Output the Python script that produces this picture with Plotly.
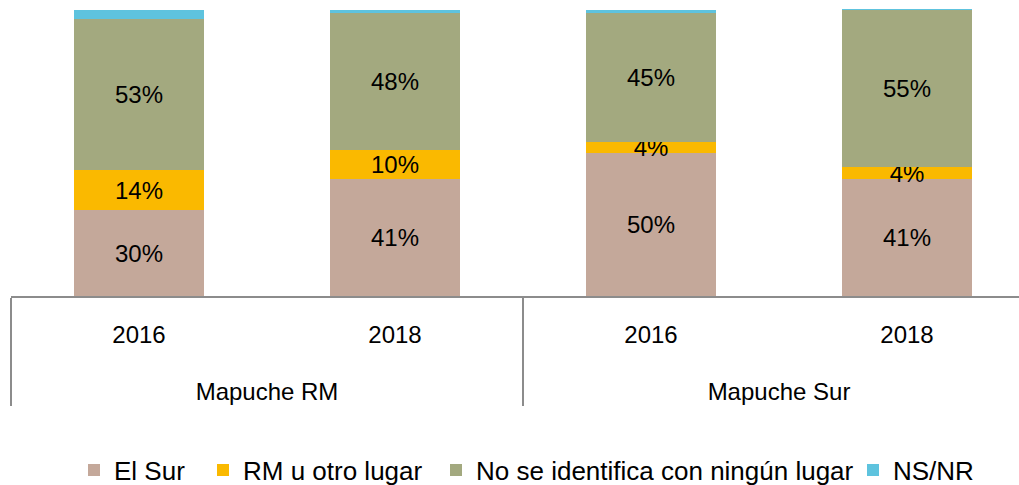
import plotly.graph_objects as go

group_names = ["Mapuche RM", "Mapuche RM", "Mapuche Sur", "Mapuche Sur"]
year_names = ["2016", "2018", "2016", "2018"]

series_names = ["El Sur", "RM u otro lugar", "No se identifica con ningún lugar", "NS/NR"]
el_sur = [30, 41, 50, 41]
rm_otro = [14, 10, 4, 4]
no_se = [53, 48, 45, 55]
ns_nr = [3, 1, 1, 0.5]
colors = ["#C4A89A", "#FAB900", "#A3A97F", "#5EC3DE"]

# label markup: visible text at 24px inside a 29px tick font (controls level spacing)
SPAN = "<span style='font-size:24px'>{}</span>"
groups = ["<br>" + SPAN.format(g) for g in group_names]
years = [SPAN.format(y) for y in year_names]

FONT = "Liberation Sans, Arial, sans-serif"

values = [el_sur, rm_otro, no_se, ns_nr]
show_text = [True, True, True, False]
legend_ids = ["legend", "legend2", "legend3", "legend4"]
legend_sym_center = [96, 225, 458, 875]

fig = go.Figure()
for name, vals, col, st, lg in zip(series_names, values, colors, show_text, legend_ids):
    fig.add_trace(go.Bar(
        x=[groups, years], y=vals, name=name,
        marker=dict(color=col, line=dict(width=0)),
        text=[f"{v:.0f}%" for v in vals] if st else None,
        textposition="inside" if st else "none",
        insidetextanchor="middle",
        textfont=dict(family=FONT, size=24, color="black"),
        legend=lg,
        hoverinfo="skip",
    ))

W, H = 1019, 485
L, PW = 11, 1008
layout_legends = {}
for lg, cx in zip(legend_ids, legend_sym_center):
    layout_legends[lg] = dict(
        x=(cx - 22) / W, xanchor="left", xref="container",
        y=(H - 470) / H, yanchor="middle", yref="container",
        orientation="h", bgcolor="rgba(0,0,0,0)",
        font=dict(family=FONT, size=26, color="black"),
        itemwidth=30, itemclick=False,
    )

fig.update_layout(
    width=W, height=H,
    margin=dict(l=L, r=0, t=8, b=189, autoexpand=False),
    barmode="stack", bargap=0.49,
    plot_bgcolor="white", paper_bgcolor="white",
    showlegend=True,
    uniformtext=dict(minsize=24, mode="show"),
    font=dict(family=FONT, size=24, color="black"),
    **layout_legends,
)
fig.update_xaxes(
    type="multicategory",
    range=[-0.5, -0.5 + PW / 256],
    showline=True, linecolor="#8C8C8C", linewidth=2,
    showdividers=True, dividercolor="#8C8C8C", dividerwidth=2,
    tickfont=dict(family=FONT, size=29, color="black"),
    ticks="", ticklabelstandoff=10,
    showgrid=False, automargin=False,
)
fig.update_yaxes(range=[0, 100.7], visible=False, showgrid=False)

fig.write_html(
    "out.html",
    config={"displayModeBar": False, "staticPlot": True},
    post_script="document.body.style.margin='0';document.body.style.overflow='hidden';",
)
